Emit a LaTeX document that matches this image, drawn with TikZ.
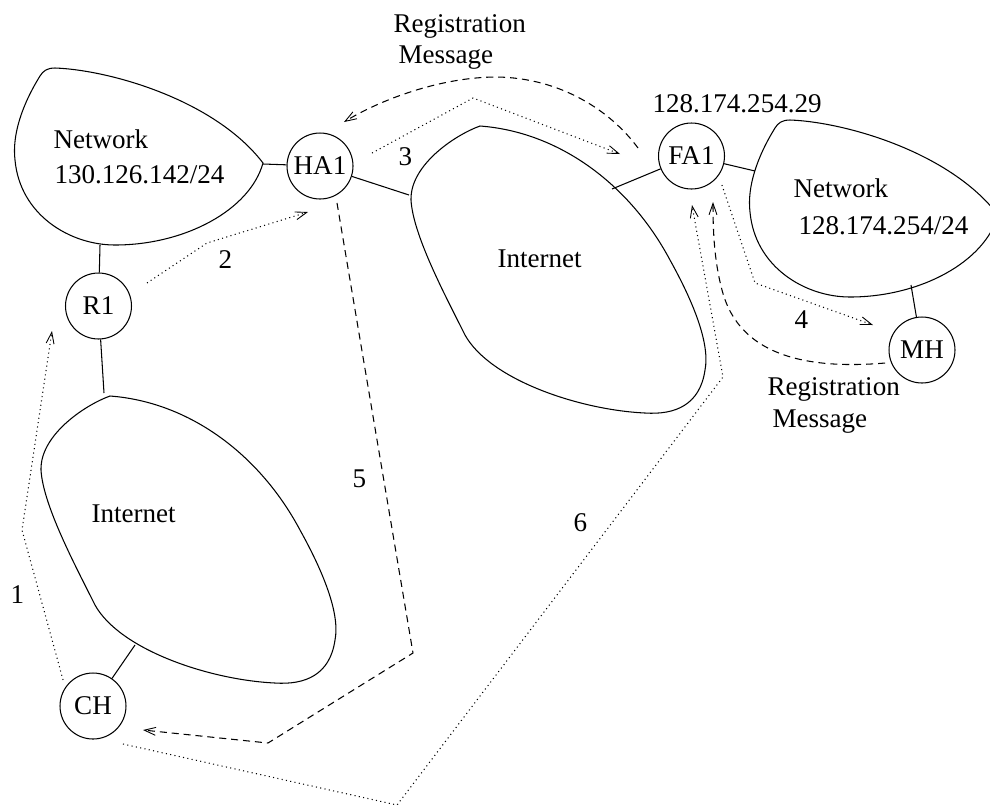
\documentclass[tikz,border=0pt]{standalone}
\usepackage{fontspec}
\setmainfont{Liberation Serif}
\usetikzlibrary{arrows.meta}
\begin{document}
\begin{tikzpicture}[x=0.02cm,y=-0.02cm,line width=0.6pt,
  font=\fontsize{15.4pt}{18pt}\selectfont,
  hostnode/.style={circle,draw,minimum size=1.32cm,inner sep=0pt},
  lbl/.style={anchor=base west,inner sep=0pt},
  dotline/.style={dash pattern=on 0.6pt off 1.9pt},
  dashline/.style={dash pattern=on 4pt off 2.8pt},
  tip/.style={-{Straight Barb[length=6.5pt,width=4.5pt,line width=0.5pt]}}]
\useasboundingbox (0,0) rectangle (990,806);
\clip (0,0) rectangle (990,806);

% nodes
\node[hostnode] (HA1) at (320,166) {HA1};
\node[hostnode] (R1) at (98.5,306) {R1};
\node[hostnode] (FA1) at (691.5,156) {FA1};
\node[hostnode] (MH) at (922,350) {MH};
\node[hostnode] (CH) at (93,706) {CH};

% network blobs
\draw (263,163) .. controls (215,100) and (110,70) .. (55,68) .. controls (47,68) and (43,71) .. (40,76) .. controls (22,105) and (12,135) .. (15,160) .. controls (20,215) and (70,245) .. (115,245) .. controls (185,245) and (250,210) .. (263,163) -- cycle;
\begin{scope}[shift={(735,52)}]
\draw (263,163) .. controls (215,100) and (110,70) .. (55,68) .. controls (47,68) and (43,71) .. (40,76) .. controls (22,105) and (12,135) .. (15,160) .. controls (20,215) and (70,245) .. (115,245) .. controls (185,245) and (250,210) .. (263,163) -- cycle;
\end{scope}

% internet blobs
\draw (480,126) .. controls (560,132) and (630,185) .. (670,260) .. controls (695,305) and (710,345) .. (705,370) .. controls (700,405) and (675,415) .. (645,413) .. controls (580,410) and (490,380) .. (465,335) .. controls (445,295) and (413,235) .. (411,200) .. controls (410,165) and (455,135) .. (480,126) -- cycle;
\begin{scope}[shift={(-370,270)}]
\draw (480,126) .. controls (560,132) and (630,185) .. (670,260) .. controls (695,305) and (710,345) .. (705,370) .. controls (700,405) and (675,415) .. (645,413) .. controls (580,410) and (490,380) .. (465,335) .. controls (445,295) and (413,235) .. (411,200) .. controls (410,165) and (455,135) .. (480,126) -- cycle;
\end{scope}

% blob attachment points
\coordinate (NLe) at (263,164);
\coordinate (NLs) at (100,245);
\coordinate (NRw) at (755,171);
\coordinate (NRs) at (911,285);
\coordinate (ICw) at (409,195);
\coordinate (ICe) at (612,189);
\coordinate (ILn) at (104,393);
\coordinate (ILs) at (135,645);

% solid links
\draw (NLe) -- (HA1);
\draw (NLs) -- (R1);
\draw (R1) -- (ILn);
\draw (HA1) -- (ICw);
\draw (ICe) -- (FA1);
\draw (FA1) -- (NRw);
\draw (NRs) -- (MH);
\draw (CH) -- (ILs);

% free ends and bends
\coordinate (e1) at (52,331);
\coordinate (b1) at (22,530);
\coordinate (b2) at (207,243);
\coordinate (e2) at (308,212);
\coordinate (b3) at (473,98);
\coordinate (e3) at (620,154);
\coordinate (b4) at (755,283);
\coordinate (e4) at (873,325);
\coordinate (b5a) at (413,653);
\coordinate (b5b) at (268,743);
\coordinate (e5) at (143,730);
\coordinate (b6a) at (397,805);
\coordinate (b6b) at (723,377);
\coordinate (e6) at (692,205);
\coordinate (eRT) at (344,122);
\coordinate (eRB) at (713,202);

% message arrows
\draw[dotline,tip] ([shift={(139:0.794cm)}]CH.center) -- (b1) -- (e1);
\draw[dotline,tip] ([shift={(25.4:1.074cm)}]R1.center) -- (b2) -- (e2);
\draw[dotline,tip] ([shift={(14:1.072cm)}]HA1.center) -- (b3) -- (e3);
\draw[dotline,tip] ([shift={(-43.6:0.84cm)}]FA1.center) -- (b4) -- (e4);
\draw[dashline,tip] ([shift={(-65.3:0.814cm)}]HA1.center) -- (b5a) -- (b5b) -- (e5);
\draw[dotline,tip] ([shift={(-51.7:0.968cm)}]CH.center) -- (b6a) -- (b6b) -- (e6);
\draw[dashline,tip] ([shift={(171.5:1.082cm)}]FA1.center) .. controls (610,110) and (560,78) .. (497,77) .. controls (440,77) and (380,100) .. (eRT);
\draw[dashline,tip] ([shift={(199.4:0.784cm)}]MH.center) .. controls (780,372) and (735,340) .. (722,290) .. controls (714,260) and (713,230) .. (eRB);

% labels
\node[lbl] (tNL1) at (53,148) {Network};
\node[lbl] (tNL2) at (54,183) {130.126.142/24};
\node[lbl] (tNR1) at (793,197) {Network};
\node[lbl] (tNR2) at (798,234) {128.174.254/24};
\node[lbl] (tFAip) at (652,112) {128.174.254.29};
\node[lbl] (tRT1) at (393,32) {Registration};
\node[lbl] (tRT2) at (398,63) {Message};
\node[lbl] (tRB1) at (767,395) {Registration};
\node[lbl] (tRB2) at (772,427) {Message};
\node[lbl] (tIC) at (497,267) {Internet};
\node[lbl] (tIL) at (91,522) {Internet};
\node[lbl] (n1) at (10,603) {1};
\node[lbl] (n2) at (218,268) {2};
\node[lbl] (n3) at (398,165) {3};
\node[lbl] (n4) at (794,328) {4};
\node[lbl] (n5) at (352,487) {5};
\node[lbl] (n6) at (573,531) {6};
\end{tikzpicture}
\end{document}
